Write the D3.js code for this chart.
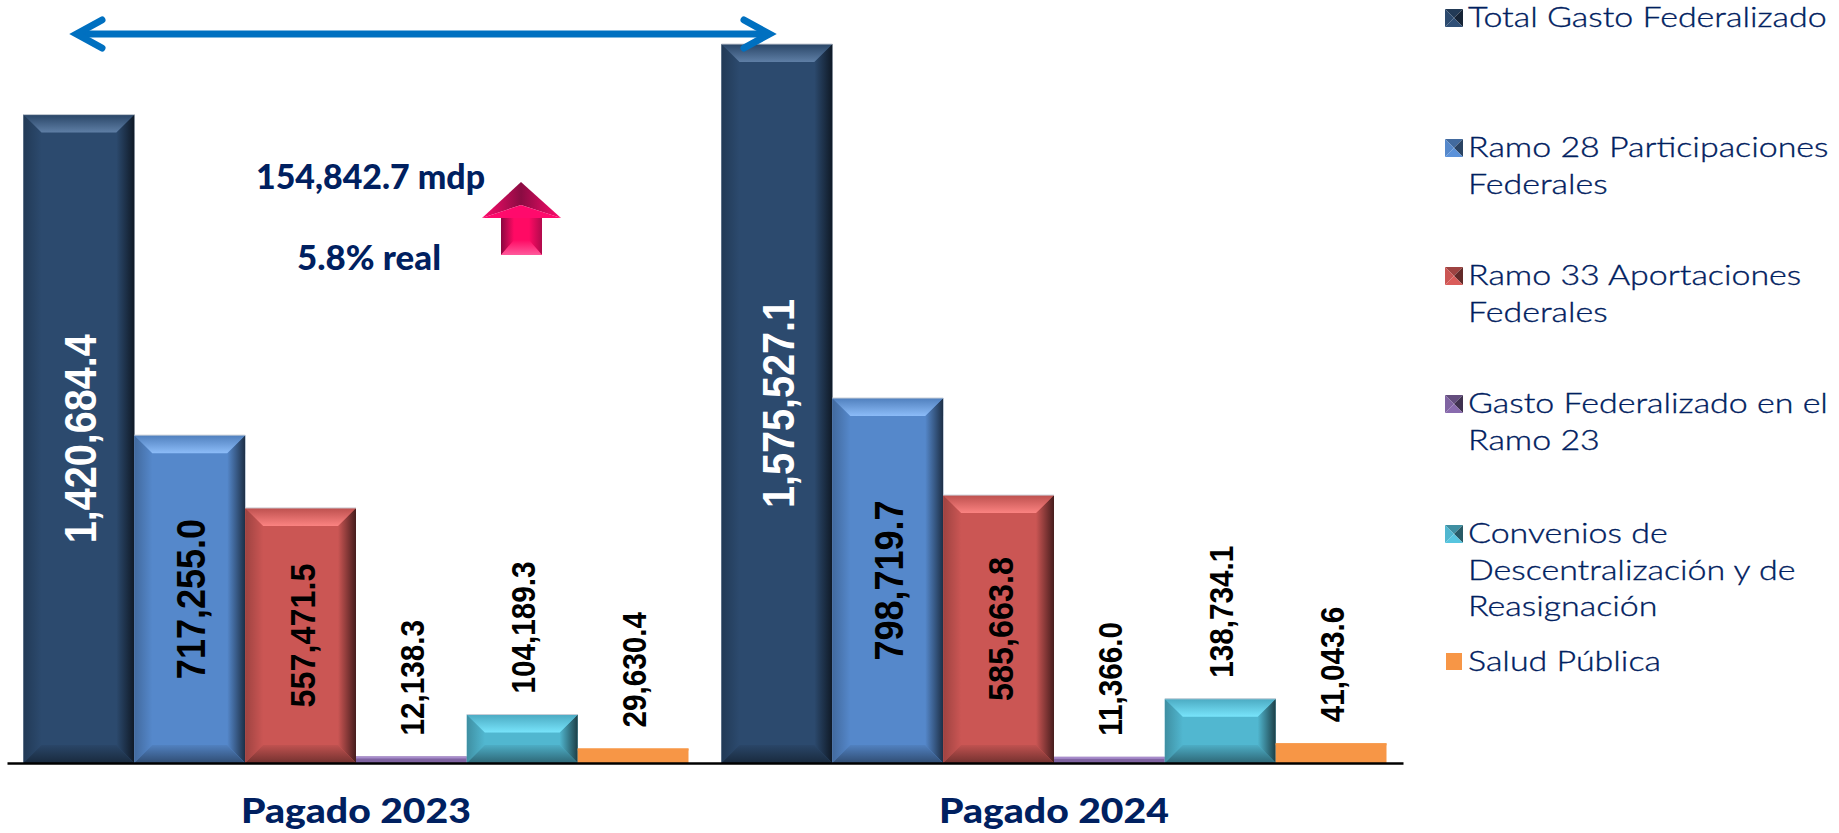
<!DOCTYPE html>
<html>
<head>
<meta charset="utf-8">
<title>Gasto Federalizado</title>
<script src="https://cdn.jsdelivr.net/npm/d3@7"></script>
<style>
	body { margin: 0; background: #fff; }
	svg { display: block; }
	.domain { stroke: #000; stroke-width: 2.5px; }
	.xAxis text { font-family: Lato, sans-serif; font-weight: 900; fill: #002060; }
	.value { font-family: "Liberation Sans", sans-serif; font-weight: bold; text-anchor: middle; }
	.legendText { font-family: Lato, sans-serif; font-weight: 300; fill: #002060; stroke: #002060; stroke-width: 0.35px; font-size: 28px; }
	.note { font-family: Lato, sans-serif; font-weight: 900; fill: #002060; font-size: 34px; }
</style>
</head>
<body>
<svg id="Overview" width="1839" height="833"></svg>
<script>
var periods = ["Pagado 2023", "Pagado 2024"];
var seriesNames = ["Total", "Ramo 28", "Ramo 33", "Ramo 23", "Convenios", "Salud"];
var values2023 = [1420684.4, 717255.0, 557471.5, 12138.3, 104189.3, 29630.4];
var values2024 = [1575527.1, 798719.7, 585663.8, 11366.0, 138734.1, 41043.6];
var legendLines = [
	["Total Gasto Federalizado"],
	["Ramo 28 Participaciones", "Federales"],
	["Ramo 33 Aportaciones", "Federales"],
	["Gasto Federalizado en el", "Ramo 23"],
	["Convenios de", "Descentralización y de", "Reasignación"],
	["Salud Pública"]
];
var noteLines = ["154,842.7 mdp", "5.8% real"];

var colors = ["#2c4a6e", "#5588cb", "#cb5654", "#8064a2", "#51b7d0", "#f79646"];
var lightTops = ["#5f7fa6", "#8cbcf8", "#fb8381", "#a78ccb", "#78e4fb", "#f79646"];
var labelSizes = [44, 40, 36, 33, 33, 33];
var labelColors = ["#fff", "#000", "#000", "#000", "#000", "#000"];
var beveled = [true, true, true, false, true, false];
var legendBaselines = [27, 157, 285, 413, 543, 671];

var svg = d3.select("#Overview");
var axisY = 763;

var x0 = d3.scaleBand().domain(periods).range([7, 1403]);
var x1 = d3.scaleBand().domain(seriesNames).range([16.5, x0.bandwidth() - 16.5]);
var y = d3.scaleLinear().domain([0, d3.max(values2024)]).range([axisY - 1, 44]);

var defs = svg.append("defs");

function addGradient(id, vertical, c1, c2) {
	var g = defs.append("linearGradient").attr("id", id)
		.attr("x1", 0).attr("y1", 0)
		.attr("x2", vertical ? 0 : 1).attr("y2", vertical ? 1 : 0);
	g.append("stop").attr("offset", "0%").attr("stop-color", c1);
	g.append("stop").attr("offset", "100%").attr("stop-color", c2);
}

colors.forEach(function (c, i) {
	addGradient("top" + i, true, d3.color(c).darker(0.2), lightTops[i]);
	addGradient("left" + i, false, d3.color(c).darker(0.7), c);
	addGradient("right" + i, false, c, d3.color(c).darker(3));
	addGradient("bottom" + i, true, d3.color(c).darker(0.15), d3.color(c).darker(1.6));
});

function poly(g, pts, fill) {
	g.append("polygon")
		.attr("points", pts.map(function (p) { return p.join(","); }).join(" "))
		.attr("fill", fill);
}

// one bar with the bevelled look of the original
function drawBar(parent, i, value) {
	var left = x1(seriesNames[i]),
		w = x1.bandwidth(),
		top = y(value),
		h = axisY - top,
		g = parent.append("g");

	g.append("rect").attr("x", left).attr("y", top).attr("width", w).attr("height", h).attr("fill", colors[i]);

	if (beveled[i]) {
		var bx = 18, by = 18, r = left + w, b = axisY;
		poly(g, [[left, top], [left + bx, top + by], [left + bx, b - by], [left, b]], "url(#left" + i + ")");
		poly(g, [[r, top], [r - bx, top + by], [r - bx, b - by], [r, b]], "url(#right" + i + ")");
		poly(g, [[left, top], [r, top], [r - bx, top + by], [left + bx, top + by]], "url(#top" + i + ")");
		poly(g, [[left, b], [r, b], [r - bx, b - by], [left + bx, b - by]], "url(#bottom" + i + ")");
		g.append("rect").attr("x", left).attr("y", top - 0.5).attr("width", w).attr("height", 1).attr("fill", "#c9ced6");
	} else {
		g.append("rect").attr("x", left).attr("y", top).attr("width", w).attr("height", 2).attr("fill", lightTops[i]);
	}
}

function drawValue(parent, i, value) {
	var cx = x1(seriesNames[i]) + x1.bandwidth() / 2 + 1.5;
	var text = parent.append("text")
		.attr("class", "value")
		.attr("fill", labelColors[i])
		.style("font-size", labelSizes[i] + "px")
		.attr("dy", ".35em")
		.text(d3.format(",.1f")(value));

	// the original face is wider and rounder: taller glyphs, squeezed along the reading direction
	if (i < 3) {
		var cy = (y(value) + axisY) / 2;
		text.attr("transform", "translate(" + cx + "," + cy + ") rotate(-90) scale(0.9,1)");
	} else {
		text.style("text-anchor", "start")
			.attr("transform", "translate(" + cx + "," + (y(value) - 21) + ") rotate(-90) scale(0.9,1)");
	}
}

[values2023, values2024].forEach(function (vals, p) {
	var group = svg.append("g").attr("transform", "translate(" + x0(periods[p]) + ",0)");
	vals.forEach(function (v, i) { drawBar(group, i, v); });
	vals.forEach(function (v, i) { drawValue(group, i, v); });
});

// axis
var xAxis = svg.append("g")
	.attr("class", "xAxis")
	.attr("transform", "translate(0," + axisY + ")")
	.call(d3.axisBottom(x0).tickSize(0).tickSizeOuter(0));
xAxis.selectAll("text")
	.attr("y", 60).attr("dy", 0)
	.style("font-size", "35px")
	.attr("textLength", 230).attr("lengthAdjust", "spacingAndGlyphs");

// double arrow on top
var blue = "#0070c0";
var arrow = svg.append("g").attr("fill", "none").attr("stroke", blue).attr("stroke-width", 7).attr("stroke-linecap", "round");
arrow.append("path").attr("d", "M78,34H768");
arrow.append("path").attr("d", "M102,20L76.5,34L102,48").attr("stroke-linejoin", "miter");
arrow.append("path").attr("d", "M744,20L769.5,34L744,48").attr("stroke-linejoin", "miter");

// note text
svg.append("text").attr("class", "note").attr("x", 256).attr("y", 189)
	.attr("textLength", 229).attr("lengthAdjust", "spacingAndGlyphs").text(noteLines[0]);
svg.append("text").attr("class", "note").attr("x", 297).attr("y", 270)
	.attr("textLength", 144).attr("lengthAdjust", "spacingAndGlyphs").text(noteLines[1]);

// pink up arrow
addGradient("pinkHeadL", false, "#ff0a6c", "#8a0c42");
addGradient("pinkHeadR", false, "#8a0c42", "#ff0a6c");
addGradient("pinkShaft", false, "#8a0640", "#ff0a64");
addGradient("pinkShaftR", false, "#ff0a64", "#b00a4c");
addGradient("pinkFoot", true, "#ff0a64", "#ff5a9c");
var pink = svg.append("g");
poly(pink, [[521, 182], [521, 205], [482, 218]], "url(#pinkHeadL)");
poly(pink, [[521, 182], [561, 218], [521, 205]], "url(#pinkHeadR)");
poly(pink, [[521, 205], [561, 218], [482, 218]], "#ff0a6c");
poly(pink, [[501, 218], [542, 218], [542, 255], [501, 255]], "#ff0a64");
poly(pink, [[501, 218], [514, 218], [514, 240], [501, 255]], "url(#pinkShaft)");
poly(pink, [[542, 218], [529, 218], [529, 240], [542, 255]], "url(#pinkShaftR)");
poly(pink, [[501, 255], [514, 240], [529, 240], [542, 255]], "url(#pinkFoot)");

// legend
var legend = svg.append("g");
var legendScale = 1;
legendLines.forEach(function (lines, i) {
	var base = legendBaselines[i], s = 18, lx = 1445;
	var g = legend.append("g");
	if (beveled[i] || i === 3) {
		var t = base - s, r = lx + s, mx = lx + s / 2, my = t + s / 2;
		poly(g, [[lx, t], [r, t], [mx, my]], d3.color(colors[i]).darker(0.7));
		poly(g, [[lx, t], [mx, my], [lx, base]], colors[i]);
		poly(g, [[r, t], [mx, my], [r, base]], d3.color(colors[i]).darker(2));
		poly(g, [[lx, base], [r, base], [mx, my]], d3.color(colors[i]).brighter(0.2));
	} else {
		g.append("rect").attr("x", lx + 1).attr("y", base - 18).attr("width", 16).attr("height", 17).attr("fill", colors[i]);
	}
	lines.forEach(function (line, j) {
		var t = g.append("text").attr("class", "legendText").text(line);
		if (i === 0) legendScale = 359 / t.node().getComputedTextLength();
		t.attr("transform", "translate(1468," + (base + j * 36.5) + ") scale(" + legendScale + ",1)");
	});
});
</script>
</body>
</html>
